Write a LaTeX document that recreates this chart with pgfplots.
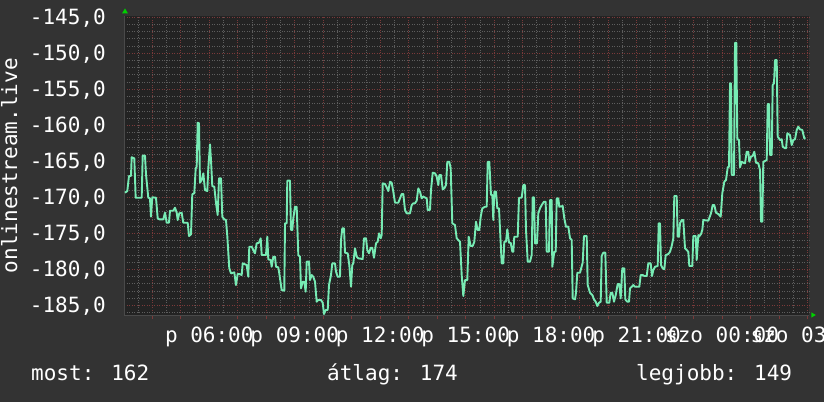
\documentclass[border=0pt]{standalone}
\usepackage{fontspec}
\setmainfont{DejaVu Sans Mono}
\usepackage{pgfplots}
\usepackage{pgfplotstable}
\pgfplotsset{compat=1.18}

\definecolor{outerbg}{HTML}{333333}
\definecolor{plotbg}{HTML}{232323}
\definecolor{gridgrey}{HTML}{5E5E5E}
\definecolor{gridred}{HTML}{7A3A3A}
\definecolor{axisgrey}{HTML}{4A4A4A}
\definecolor{mint}{HTML}{77EBB4}
\definecolor{arrowgreen}{HTML}{00D000}

% hours (24 = szo 00:00), value
\pgfplotstableread{
h v
3.041 -169.36
3.122 -169.13
3.181 -167.04
3.251 -167.04
3.276 -164.44
3.367 -164.58
3.416 -170.06
3.627 -170.06
3.662 -164.22
3.743 -164.22
3.778 -166.81
3.859 -170.06
3.918 -170.14
3.953 -172.69
3.999 -170.00
4.129 -170.06
4.189 -172.92
4.245 -173.06
4.385 -173.06
4.445 -172.14
4.505 -173.53
4.585 -173.53
4.621 -171.86
4.736 -171.86
4.796 -171.44
4.856 -172.14
4.891 -173.15
4.947 -172.22
5.031 -172.14
5.087 -173.53
5.242 -173.53
5.288 -175.38
5.358 -175.14
5.403 -169.58
5.474 -169.44
5.523 -165.97
5.558 -165.75
5.593 -159.64
5.639 -159.72
5.674 -167.97
5.733 -167.60
5.790 -166.67
5.849 -168.99
5.930 -169.13
5.965 -165.97
6.025 -162.64
6.060 -164.82
6.105 -168.43
6.176 -168.53
6.235 -170.75
6.295 -172.46
6.341 -167.36
6.411 -167.36
6.457 -172.69
6.527 -173.06
6.586 -173.15
6.632 -175.38
6.702 -179.86
6.762 -180.56
6.878 -180.42
6.937 -182.18
6.997 -180.65
7.053 -180.65
7.138 -180.79
7.173 -179.17
7.313 -179.40
7.369 -181.03
7.404 -176.86
7.489 -176.86
7.545 -177.32
7.604 -177.78
7.664 -176.39
7.745 -176.31
7.805 -175.69
7.840 -178.01
7.991 -178.01
8.036 -175.47
8.071 -178.61
8.156 -178.71
8.191 -179.64
8.247 -178.25
8.307 -178.25
8.342 -179.64
8.422 -179.72
8.457 -180.56
8.542 -182.88
8.633 -182.97
8.658 -173.61
8.717 -173.61
8.738 -167.69
8.833 -167.69
8.868 -174.54
8.914 -174.54
8.949 -172.92
9.009 -171.31
9.068 -171.31
9.125 -178.01
9.184 -178.25
9.219 -182.64
9.279 -181.72
9.335 -181.72
9.384 -183.11
9.419 -178.94
9.500 -178.94
9.535 -181.49
9.595 -180.79
9.651 -181.03
9.711 -181.72
9.770 -184.50
9.827 -184.26
9.921 -184.26
9.981 -184.64
10.027 -186.21
10.086 -185.65
10.157 -185.65
10.202 -182.18
10.272 -180.79
10.318 -179.17
10.413 -179.17
10.448 -180.33
10.508 -181.03
10.588 -181.03
10.624 -175.93
10.669 -174.31
10.729 -174.31
10.764 -177.69
10.859 -177.78
10.915 -179.40
10.975 -182.42
11.020 -179.40
11.055 -179.17
11.115 -177.08
11.175 -178.25
11.231 -178.47
11.385 -178.57
11.431 -175.69
11.501 -175.69
11.547 -177.32
11.606 -177.78
11.666 -177.00
11.722 -177.00
11.782 -178.39
11.852 -176.39
11.912 -176.17
11.958 -175.00
12.017 -175.69
12.052 -175.24
12.087 -168.06
12.168 -168.15
12.228 -168.61
12.284 -169.13
12.344 -167.83
12.403 -167.97
12.460 -169.22
12.519 -170.75
12.635 -170.75
12.695 -170.14
12.754 -169.54
12.811 -169.54
12.870 -171.76
12.930 -172.22
13.046 -172.22
13.106 -171.07
13.162 -170.83
13.221 -170.83
13.281 -170.47
13.337 -168.75
13.397 -169.22
13.456 -170.14
13.513 -169.92
13.632 -170.14
13.667 -171.76
13.748 -171.76
13.783 -168.99
13.843 -166.58
13.923 -166.67
13.983 -167.14
14.039 -168.29
14.074 -166.90
14.134 -166.90
14.194 -168.89
14.250 -168.75
14.310 -168.29
14.355 -165.06
14.425 -165.06
14.474 -165.97
14.531 -173.61
14.625 -173.85
14.685 -175.69
14.741 -175.93
14.801 -176.17
14.861 -180.79
14.917 -183.71
14.976 -181.49
15.057 -181.49
15.106 -175.47
15.177 -176.76
15.247 -176.76
15.303 -176.17
15.363 -173.39
15.422 -174.54
15.479 -174.54
15.528 -172.69
15.584 -171.53
15.679 -171.31
15.738 -171.31
15.774 -165.06
15.830 -165.06
15.889 -169.68
15.935 -169.68
15.970 -173.15
16.005 -169.22
16.065 -169.22
16.110 -171.53
16.170 -171.53
16.216 -175.24
16.265 -179.17
16.321 -179.17
16.356 -176.17
16.416 -176.17
16.461 -174.44
16.521 -176.31
16.581 -176.31
16.637 -177.56
16.672 -177.56
16.707 -175.47
16.827 -175.47
16.872 -170.06
16.967 -170.06
17.023 -168.29
17.083 -168.29
17.118 -174.54
17.178 -178.94
17.258 -178.94
17.318 -178.01
17.353 -170.00
17.399 -170.00
17.434 -176.39
17.504 -176.39
17.550 -172.22
17.609 -171.53
17.669 -171.07
17.750 -170.61
17.809 -170.61
17.845 -177.56
17.925 -177.56
17.961 -170.38
18.020 -170.38
18.041 -179.64
18.112 -177.56
18.161 -177.56
18.196 -170.14
18.252 -170.14
18.287 -171.31
18.406 -171.21
18.462 -172.92
18.522 -174.08
18.603 -174.08
18.663 -175.69
18.722 -175.93
18.757 -184.03
18.838 -184.17
18.873 -183.25
18.919 -180.47
19.014 -180.47
19.108 -179.08
19.154 -175.38
19.249 -175.38
19.284 -182.18
19.365 -183.25
19.446 -183.57
19.505 -184.17
19.565 -184.50
19.621 -185.10
19.681 -184.64
19.740 -184.50
19.775 -178.15
19.832 -177.69
19.902 -177.69
19.951 -184.64
20.042 -184.64
20.091 -183.25
20.148 -183.25
20.207 -184.50
20.267 -183.57
20.337 -182.04
20.393 -182.04
20.442 -184.03
20.498 -179.86
20.569 -179.86
20.604 -184.17
20.674 -184.50
20.734 -184.50
20.769 -182.64
20.828 -182.42
20.884 -182.18
20.944 -182.42
21.095 -182.42
21.145 -180.79
21.215 -180.79
21.271 -180.93
21.355 -180.93
21.411 -179.17
21.495 -179.17
21.541 -180.93
21.587 -180.10
21.646 -179.64
21.741 -179.54
21.776 -173.61
21.822 -173.61
21.857 -179.40
21.917 -179.86
21.973 -180.00
22.022 -178.01
22.113 -177.88
22.173 -177.56
22.233 -176.76
22.289 -175.69
22.324 -169.82
22.408 -169.82
22.443 -175.47
22.489 -175.47
22.524 -173.61
22.584 -173.15
22.640 -173.15
22.700 -177.08
22.759 -177.32
22.815 -177.56
22.851 -179.54
22.956 -179.54
22.991 -175.38
23.075 -175.38
23.110 -178.71
23.167 -175.24
23.191 -175.47
23.261 -175.10
23.307 -174.54
23.342 -173.15
23.518 -173.25
23.612 -172.22
23.672 -171.07
23.728 -171.07
23.788 -172.14
23.869 -172.32
23.953 -172.69
24.009 -169.44
24.080 -167.83
24.139 -167.60
24.199 -165.83
24.244 -165.75
24.280 -154.17
24.315 -154.17
24.339 -166.90
24.420 -166.90
24.455 -148.53
24.500 -148.53
24.536 -161.94
24.595 -162.04
24.630 -165.83
24.690 -165.06
24.746 -165.19
24.806 -165.28
24.865 -163.67
24.921 -163.67
24.957 -165.06
25.016 -164.36
25.076 -164.26
25.132 -163.67
25.192 -165.19
25.273 -165.28
25.333 -166.21
25.368 -173.39
25.413 -173.39
25.448 -165.06
25.508 -164.96
25.568 -164.82
25.603 -157.04
25.648 -157.04
25.684 -164.13
25.743 -164.13
25.778 -154.40
25.824 -154.17
25.859 -150.93
25.919 -150.93
25.954 -161.58
26.035 -162.04
26.094 -161.94
26.130 -162.97
26.210 -163.19
26.248 -163.19
26.291 -161.11
26.385 -161.35
26.445 -162.74
26.501 -162.04
26.561 -161.94
26.621 -160.65
26.677 -160.19
26.736 -160.56
26.817 -160.65
26.887 -161.81
26.937 -161.81
}\datatable

\begin{document}
\begin{tikzpicture}[x=1pt,y=1pt]
\useasboundingbox (0,0) rectangle (824,402);
\fill[outerbg] (0,0) rectangle (824,402);
\begin{axis}[
    name=main,
    at={(124pt,86.3pt)}, anchor=south west,
    scale only axis,
    width=685.3pt, height=300pt,
    xmin=3.006, xmax=27.063,
    ymin=-186.44, ymax=-144.78,
    axis background/.style={fill=plotbg},
    axis x line=bottom, axis y line=left,
    axis line style={draw=axisgrey, line width=1pt, -},
    xtick={4,5,...,27},
    xticklabels={{},{},{p 06:00},{},{},{p 09:00},{},{},{p 12:00},{},{},{p 15:00},{},{},{p 18:00},{},{},{p 21:00},{},{},{szo 00:00},{},{},{szo 03:00}},
    minor xtick={3.5,4.5,...,26.5},
    ytick={-185,-180,...,-145},
    yticklabels={{-185,0},{-180,0},{-175,0},{-170,0},{-165,0},{-160,0},{-155,0},{-150,0},{-145,0}},
    minor ytick={-186,-184,-183,-182,-181,-179,-178,-177,-176,-174,-173,-172,-171,-169,-168,-167,-166,-164,-163,-162,-161,-159,-158,-157,-156,-154,-153,-152,-151,-149,-148,-147,-146},
    grid=both,
    major grid style={draw=gridred, line width=0.8pt, dash pattern=on 1pt off 1.5pt},
    minor grid style={draw=gridgrey, line width=0.8pt, dash pattern=on 1pt off 1.5pt},
    tick align=outside,
    major tick length=3pt, minor tick length=0pt,
    xtick style={draw=gridred, line width=0.8pt},
    ytick style={draw=none},
    tick label style={font=\fontsize{21}{25}\selectfont, text=white, inner sep=0pt},
    xticklabel style={anchor=base, yshift=-23.6pt},
    yticklabel style={anchor=base east, xshift=-15pt, yshift=-7.6pt},
]
\addplot[mint, line width=1.9pt, line join=round, sharp plot] table[x=h, y=v] {\datatable};
\end{axis}
\fill[arrowgreen] (122,388.5) -- (128,388.5) -- (125,393.5) -- cycle;
\fill[arrowgreen] (811.3,84.3) -- (811.3,89.7) -- (815.8,87) -- cycle;
\node[rotate=90, anchor=base, inner sep=0pt, text=white, font=\fontsize{21}{25}\selectfont] at (17,236.3) {onlinestream.live};
\begin{scope}[every node/.style={anchor=base west, inner sep=0pt, text=white, font=\fontsize{21}{25}\selectfont}]
\node at (31,21.3) {most: 162};
\node at (327,21.3) {átlag: 174};
\node at (636,21.3) {legjobb: 149};
\end{scope}
\end{tikzpicture}
\end{document}
